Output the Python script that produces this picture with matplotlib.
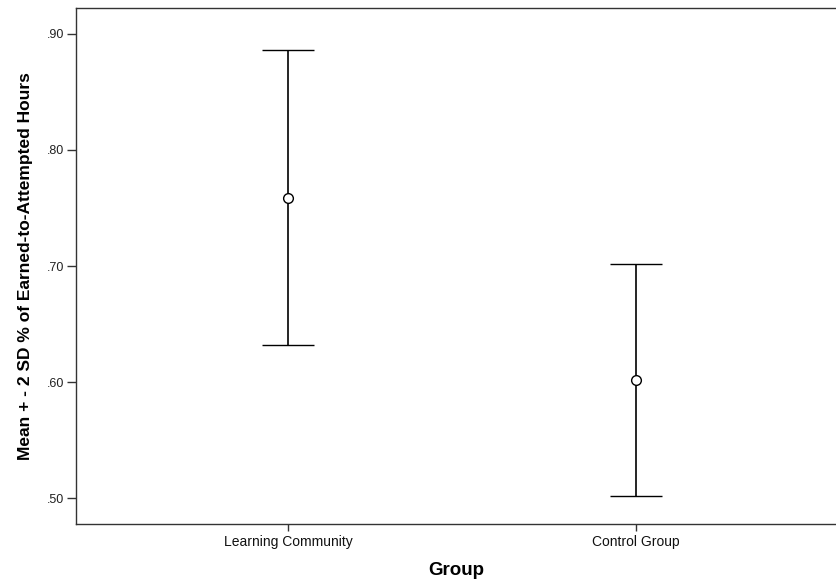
import matplotlib.pyplot as plt
from matplotlib.ticker import FuncFormatter

plt.rcParams["font.family"] = ["Liberation Sans", "DejaVu Sans"]

# dados
grupos = ["Learning Community", "Control Group"]
medias = [0.759, 0.602]
dois_dp = [0.127, 0.100]
yticks = [0.50, 0.60, 0.70, 0.80, 0.90]

fig = plt.figure(figsize=(8.37, 5.79), dpi=100)
ax = fig.add_axes([76 / 837, 1 - 524 / 579, 1 - 76 / 837, (524 - 8) / 579])

x = list(range(len(grupos)))
ax.errorbar(
    x,
    medias,
    yerr=dois_dp,
    fmt="o",
    mfc="white",
    mec="black",
    ms=7,
    mew=1,
    ecolor="black",
    elinewidth=1.2,
    capsize=18.5,
    capthick=1.2,
    zorder=3,
)

ax.set_xlim(-0.609, 1.578)
ax.set_ylim(0.4776, 0.9224)
ax.set_xticks(x)
ax.set_xticklabels(grupos, fontsize=10)
ax.set_yticks(yticks)
ax.yaxis.set_major_formatter(FuncFormatter(lambda v, p: ("%.2f" % v).lstrip("0")))
ax.tick_params(axis="y", labelsize=9, length=6.5, width=1, color="#333333",
               labelcolor="#222222", pad=2)
ax.tick_params(axis="x", length=5, width=1, color="#333333", labelcolor="#111111", pad=3)

for lado in ["left", "bottom", "top"]:
    ax.spines[lado].set_color("#333333")
    ax.spines[lado].set_linewidth(1)
ax.spines["right"].set_visible(False)

ax.set_xlabel("Group", fontsize=13.5, fontweight="bold", labelpad=9)
ax.set_ylabel(
    "Mean + - 2 SD % of Earned-to-Attempted Hours",
    fontsize=12.5,
    fontweight="bold",
    labelpad=10,
)

fig.savefig("out.png", dpi=100)
